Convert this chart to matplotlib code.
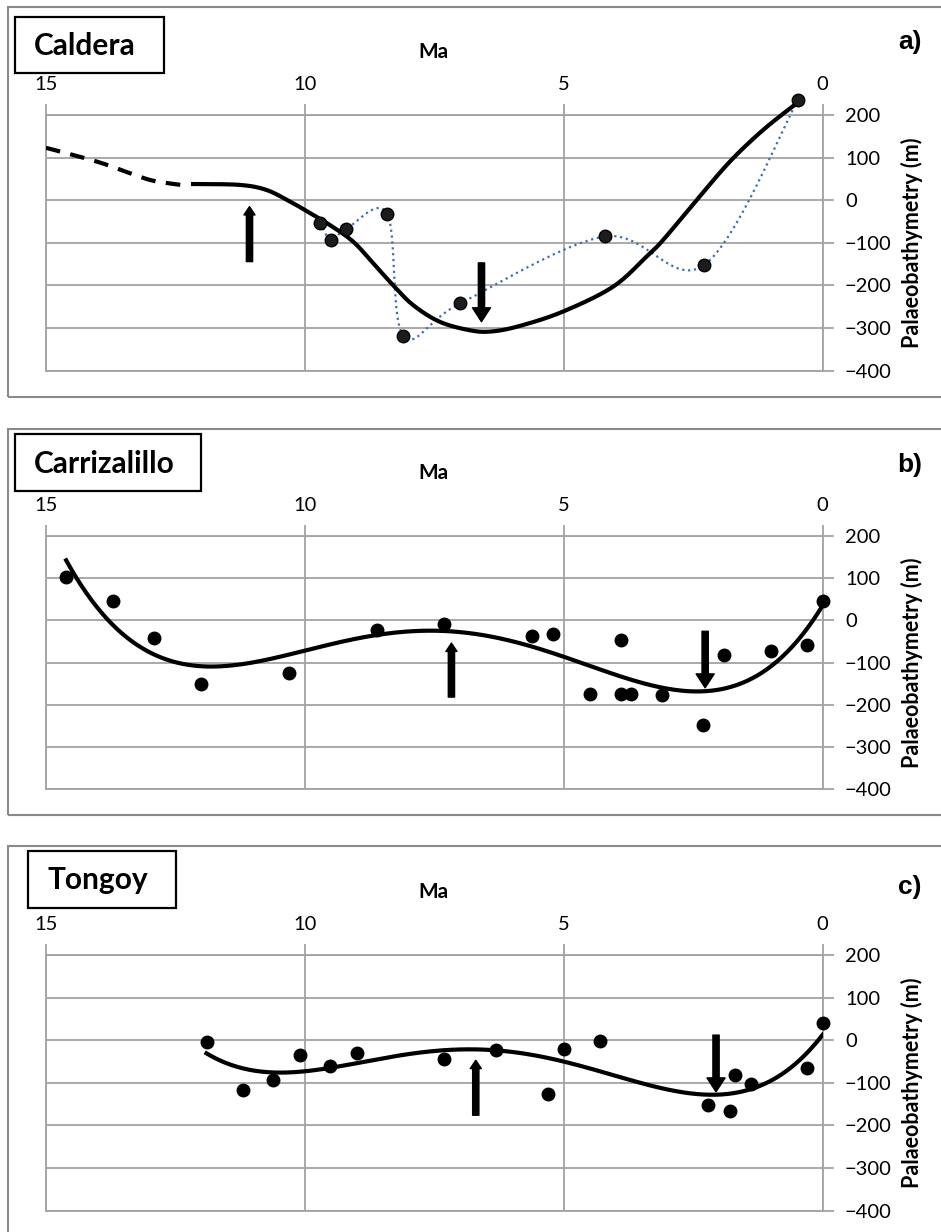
import numpy as np
import matplotlib
matplotlib.use('Agg')
import matplotlib.pyplot as plt
from matplotlib.patches import Rectangle

plt.rcParams['font.family'] = ['Lato', 'DejaVu Sans']

W, H = 941, 1232
GRID = '#a3a3a3'

# ---------------- data (age in Ma, palaeobathymetry in m) ----------------
caldera_ma = [9.70, 9.50, 9.20, 8.41, 8.10, 7.00, 4.21, 2.29, 0.48]
caldera_m = [-53, -93, -67, -32, -318, -242, -85, -152, 235]
# hand-drawn trend
caldera_trend_ma = [12.16, 11.26, 10.74, 10.29, 10.0, 9.52, 9.07, 8.68, 8.30,
                    7.91, 7.40, 6.82, 6.40, 5.85, 5.01, 4.05, 3.40, 3.08,
                    2.43, 1.79, 1.15, 0.54]
caldera_trend_m = [38, 36, 24, -3, -23, -58, -97, -148, -199,
                   -246, -285, -305, -308, -295, -261, -203, -132, -93,
                   1, 91, 165, 224]
caldera_dash_ma = [15.0, 14.0, 13.3, 12.9, 12.27]
caldera_dash_m = [123, 90, 60, 45, 34]

carr_ma = [14.61, 13.71, 12.92, 12.01, 10.31, 8.61, 7.31, 5.62, 5.21, 3.90,
           4.50, 3.90, 3.70, 3.11, 2.31, 1.91, 1.00, 0.30, 0.0]
carr_m = [102, 47, -43, -152, -126, -22, -9, -36, -32, -47,
          -175, -175, -175, -178, -249, -83, -73, -58, 47]

tong_ma = [11.90, 11.20, 10.62, 10.10, 9.51, 9.00, 7.31, 6.30, 5.30, 4.99,
           4.30, 2.21, 1.79, 1.69, 1.39, 0.30, 0.0]
tong_m = [-5, -117, -94, -34, -60, -31, -45, -23, -125, -21,
          -2, -152, -167, -82, -103, -65, 41]

# arrows: (age, tail, tip)
arrows = {
    'a': [(11.07, -144, -15), (6.59, -147, -285)],
    'b': [(7.17, -182, -54), (2.27, -26, -160)],
    'c': [(6.70, -176, -47), (2.06, 12, -121)],
}

x_ticks = [15, 10, 5, 0]
y_ticks = [-400, -300, -200, -100, 0, 100, 200]


def smooth(xs, ys, n=40):
    # Catmull-Rom style smoothing like a spreadsheet "smoothed line"
    p = np.column_stack([xs, ys]).astype(float)
    out = []
    for i in range(len(p) - 1):
        p0 = p[i - 1] if i > 0 else p[i]
        p3 = p[i + 2] if i + 2 < len(p) else p[i + 1]
        m1 = (p[i + 1] - p0) / 2
        m2 = (p3 - p[i]) / 2
        t = np.linspace(0, 1, n)[:, None]
        h00 = 2 * t**3 - 3 * t**2 + 1
        h10 = t**3 - 2 * t**2 + t
        h01 = -2 * t**3 + 3 * t**2
        h11 = t**3 - t**2
        out.append(h00 * p[i] + h10 * m1 + h01 * p[i + 1] + h11 * m2)
    out = np.vstack(out)
    return out[:, 0], out[:, 1]


def px(x, y):
    return x / W, 1 - y / H


fig = plt.figure(figsize=(W / 100, H / 100), dpi=100)

panels = [
    # name, title, axes top/bottom px, frame top/bottom, title box, Ma y, letter y
    ('a', 'Caldera', 115, 370.7, 7, 397, (15, 17, 164, 73), 52, 42),
    ('b', 'Carrizalillo', 536, 789, 429, 815, (15, 434, 201, 491), 473, 465),
    ('c', 'Tongoy', 955, 1210.7, 846, 1245, (28, 851, 176, 908), 892, 887),
]

ax_left, ax_right = 46, 822.7

for name, title, top, bot, ftop, fbot, box, ma_y, let_y in panels:
    # outer frame
    fig.patches.append(Rectangle(px(8, fbot), 950 / W, (fbot - ftop) / H,
                                 transform=fig.transFigure, fill=False,
                                 edgecolor='#8a8a8a', lw=1.5))
    # title box
    bx0, by0, bx1, by1 = box
    fig.patches.append(Rectangle(px(bx0, by1), (bx1 - bx0) / W, (by1 - by0) / H,
                                 transform=fig.transFigure, fill=False,
                                 edgecolor='black', lw=1.6))
    fig.text(*px(bx0 + 19, (by0 + by1) / 2 + 1), title, fontsize=21.5,
             fontweight='bold', ha='left', va='center')
    fig.text(*px(433, ma_y), 'Ma', fontsize=15, fontweight='bold',
             ha='center', va='center')
    fig.text(*px(910, let_y), name + ')', fontsize=19, fontweight='bold',
             ha='center', va='center', family=['Liberation Sans'])
    fig.text(*px(912, (top + bot) / 2), 'Palaeobathymetry (m)', fontsize=15.5,
             fontweight='bold', rotation=90, ha='center', va='center')

    ax = fig.add_axes([ax_left / W, 1 - bot / H, (ax_right - ax_left) / W,
                       (bot - top) / H])
    ax.set_xlim(15, 0)
    ax.set_ylim(-400, 200)
    ax.xaxis.tick_top()
    ax.yaxis.tick_right()
    ax.set_xticks(x_ticks)
    ax.set_yticks(y_ticks)
    ax.tick_params(axis='both', direction='out', length=8, width=1.3,
                   color=GRID, labelsize=14.5, pad=8)
    ax.grid(True, color=GRID, lw=1.3)
    for s in ax.spines.values():
        s.set_color(GRID)
        s.set_linewidth(1.3)
    ax.set_axisbelow(True)

    if name == 'a':
        sx, sy = smooth(caldera_ma, caldera_m)
        ax.plot(sx, sy, ls=':', color='#3f6fb0', lw=1.6, zorder=2, clip_on=False)
        tx, ty = smooth(caldera_trend_ma, caldera_trend_m)
        ax.plot(tx, ty, color='black', lw=3, zorder=3, clip_on=False)
        dx, dy = smooth(caldera_dash_ma, caldera_dash_m)
        ax.plot(dx, dy, color='black', lw=3, ls=(0, (3.5, 2.5)), zorder=3)
        ax.plot(caldera_ma, caldera_m, 'o', color='#1c1c1c', mec='black',
                ms=9, zorder=4, clip_on=False)
    else:
        xs, ys = (carr_ma, carr_m) if name == 'b' else (tong_ma, tong_m)
        coef = np.polyfit(xs, ys, 4)
        fx = np.linspace(max(xs), min(xs), 300)
        ax.plot(fx, np.polyval(coef, fx), color='black', lw=3, zorder=3)
        ax.plot(xs, ys, 'o', color='black', ms=9, zorder=4, clip_on=False)

    for i, (x, tail, tip) in enumerate(arrows[name]):
        up = tip > tail
        ax.annotate('', xy=(x, tip), xytext=(x, tail),
                    arrowprops=dict(width=4.5,
                                    headwidth=8 if up else 13,
                                    headlength=6 if up else 10,
                                    facecolor='black', edgecolor='black',
                                    shrink=0), zorder=5)

fig.savefig('out.png', dpi=100)
